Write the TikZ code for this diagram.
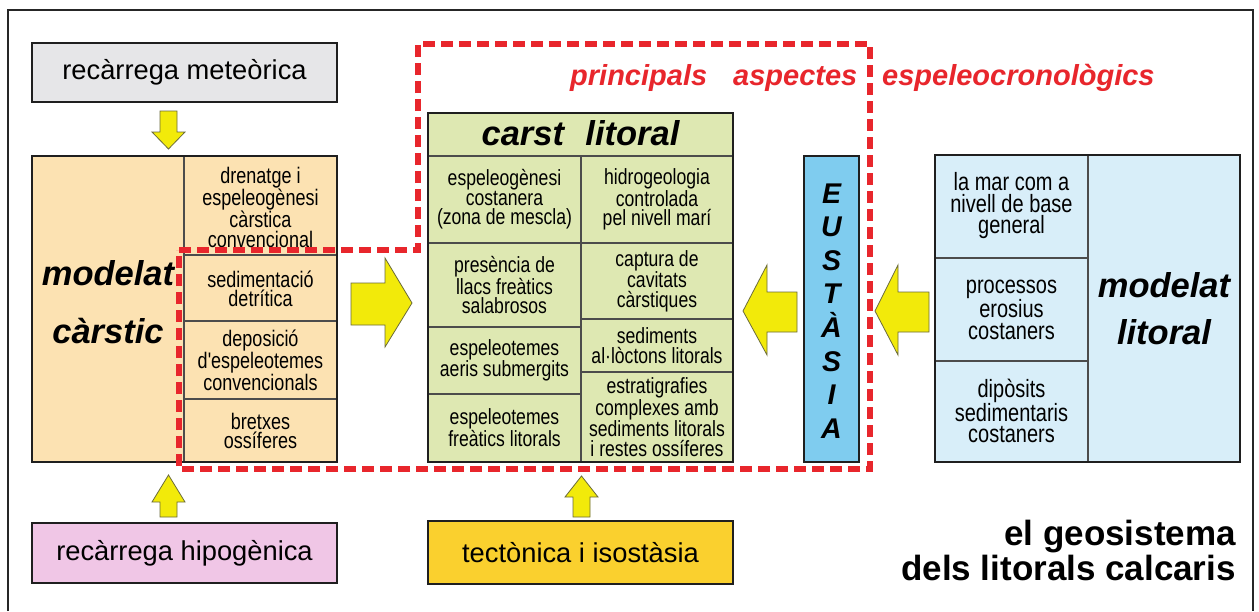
\documentclass[tikz,border=0pt]{standalone}
\usepackage{fontspec}
\setmainfont{Liberation Sans}
\newfontfamily\narrowfont[FakeStretch=0.8]{Liberation Sans}
\definecolor{grayfill}{HTML}{E6E6E8}
\definecolor{peach}{HTML}{FCE2B2}
\definecolor{greenfill}{HTML}{DEE8B2}
\definecolor{eustblue}{HTML}{7FCCEF}
\definecolor{lightblue}{HTML}{D8EEF9}
\definecolor{pinkfill}{HTML}{F0C6E6}
\definecolor{tectfill}{HTML}{FAD02E}
\definecolor{arrowyellow}{HTML}{F2EA0A}
\definecolor{arrowedge}{HTML}{6B6B3A}
\definecolor{dashred}{HTML}{E8262C}
\begin{document}
\begin{tikzpicture}[x=1pt,y=-1pt,
  boxline/.style={draw=black!88, line width=2.2pt},
  divider/.style={draw=black!70, line width=1.1pt},
  cellA/.style={font=\narrowfont\fontsize{22.5}{19.5}\selectfont, align=center, inner sep=0pt},
  cellB/.style={font=\narrowfont\fontsize{22}{19.5}\selectfont, align=center, inner sep=0pt},
  cellC/.style={font=\narrowfont\fontsize{25}{21.5}\selectfont, align=center, inner sep=0pt},
  bigtxt/.style={font=\fontsize{27.3}{30}\selectfont, inner sep=0pt},
  hugetxt/.style={font=\bfseries\itshape\fontsize{34.5}{58}\selectfont, align=center, inner sep=0pt},
  eustxt/.style={font=\bfseries\itshape\fontsize{28.5}{30}\selectfont, inner sep=0pt, anchor=base},
  yarrow/.style={fill=arrowyellow, draw=arrowedge, line width=0.8pt, line join=miter},
  reddash/.style={draw=dashred, line width=5.5pt, dash pattern=on 12pt off 6pt},
  redtxt/.style={text=dashred, font=\bfseries\itshape\fontsize{29}{34}\selectfont, inner sep=0pt, anchor=base west},
  titletxt/.style={font=\bfseries\fontsize{35}{40}\selectfont, inner sep=0pt, anchor=base east},
]
\useasboundingbox (0,0) rectangle (1259,611);
\fill[white] (0,0) rectangle (1259,611);
% outer frame (open at the bottom)
\draw[line width=2pt, black!85] (8,611) -- (8,10) -- (1253,10) -- (1253,611);

% recarrega meteorica
\filldraw[boxline, fill=grayfill] (32,43) rectangle (337,102);
\node[bigtxt] (met) at (184.5,72.5) {recàrrega meteòrica};

% modelat carstic
\fill[peach] (32,156) rectangle (337,462);
\draw[divider] (184,156) -- (184,462);
\draw[divider] (184,255) -- (337,255);
\draw[divider] (184,321) -- (337,321);
\draw[divider] (184,399) -- (337,399);
\draw[boxline] (32,156) rectangle (337,462);
\node[hugetxt, font=\bfseries\itshape\fontsize{34.5}{58}\selectfont] (mk) at (108,302) {modelat\\càrstic};
\node[cellA] (mk1) at (260.5,207) {drenatge i\\espeleogènesi\\càrstica\\convencional};
\node[cellA] (mk2) at (260.5,289) {sedimentació\\detrítica};
\node[cellA] (mk3) at (260.5,360) {deposició\\d'espeleotemes\\convencionals};
\node[cellA] (mk4) at (260.5,431) {bretxes\\ossíferes};

% recarrega hipogenica
\filldraw[boxline, fill=pinkfill] (32,523) rectangle (337,583);
\node[bigtxt] (hip) at (184.5,553) {recàrrega hipogènica};

% carst litoral
\fill[greenfill] (428,113) rectangle (733,462);
\draw[divider] (428,156) -- (733,156);
\draw[divider] (581,156) -- (581,462);
\draw[divider] (428,243) -- (733,243);
\draw[divider] (428,327) -- (581,327);
\draw[divider] (428,394) -- (581,394);
\draw[divider] (581,319) -- (733,319);
\draw[divider] (581,372) -- (733,372);
\draw[boxline] (428,113) rectangle (733,462);
\node[font=\bfseries\itshape\fontsize{34.5}{40}\selectfont, inner sep=0pt, anchor=base] (cl) at (580.5,145) {carst\hspace{0.62em}litoral};
\node[cellB] (cl1) at (504.5,199.5) {espeleogènesi\\costanera\\(zona de mescla)};
\node[cellB] (cl2) at (504.5,285) {presència de\\llacs freàtics\\salabrosos};
\node[cellB] (cl3) at (504.5,360.5) {espeleotemes\\aeris submergits};
\node[cellB] (cl4) at (504.5,428) {espeleotemes\\freàtics litorals};
\node[cellB] (cr1) at (657,199.5) {hidrogeologia\\controlada\\pel nivell marí};
\node[cellB] (cr2) at (657,281) {captura de\\cavitats\\càrstiques};
\node[cellB] (cr3) at (657,345.5) {sediments\\al·lòctons litorals};
\node[cellB] (cr4) at (657,417) {estratigrafies\\complexes amb\\sediments litorals\\i restes ossíferes};

% tectonica
\filldraw[boxline, fill=tectfill] (428,521) rectangle (733,584);
\node[bigtxt] (tec) at (580.5,552.5) {tectònica i isostàsia};

% eustasia
\filldraw[boxline, fill=eustblue] (804,156) rectangle (859,462);
\foreach \l [count=\i] in {E,U,S,T,À,S,I,A}
  \node[eustxt] (eu\i) at (831.5,{203+(\i-1)*33.6}) {\l};

% modelat litoral
\fill[lightblue] (935,155) rectangle (1240,462);
\draw[divider] (1088,155) -- (1088,462);
\draw[divider] (935,258) -- (1088,258);
\draw[divider] (935,361) -- (1088,361);
\draw[boxline] (935,155) rectangle (1240,462);
\node[hugetxt, font=\bfseries\itshape\fontsize{34.5}{47}\selectfont] (ml) at (1164,309) {modelat\\litoral};
\node[cellC] (ml1) at (1011.5,206) {la mar com a\\nivell de base\\general};
\node[cellC] (ml2) at (1011.5,309.5) {processos\\erosius\\costaners};
\node[cellC] (ml3) at (1011.5,411) {dipòsits\\sedimentaris\\costaners};

% yellow block arrows
\draw[yarrow] (160,111) -- (177,111) -- (177,132) -- (185,132) -- (168.5,149) -- (152,132) -- (160,132) -- cycle;
\draw[yarrow] (160,517) -- (177,517) -- (177,502) -- (185,502) -- (168.5,475) -- (152,502) -- (160,502) -- cycle;
\draw[yarrow] (573,517) -- (590,517) -- (590,497) -- (598,497) -- (581.5,476) -- (565,497) -- (573,497) -- cycle;
\draw[yarrow] (351,283) -- (385,283) -- (385,258) -- (412,303) -- (385,347) -- (385,325) -- (351,325) -- cycle;
\draw[yarrow] (797,292) -- (767,292) -- (767,265) -- (743,311) -- (767,355) -- (767,332) -- (797,332) -- cycle;
\draw[yarrow] (929,292) -- (898,292) -- (898,265) -- (875,311) -- (898,355) -- (898,332) -- (929,332) -- cycle;

% red dashed outline
\draw[reddash] (179,250) -- (418,250) -- (418,44) -- (870,44) -- (870,469) -- (179,469) -- cycle;
\node[redtxt] (r1) at (570,85) {principals};
\node[redtxt] (r2) at (733,85) {aspectes};
\node[redtxt] (r3) at (882,85) {espeleocronològics};

% title
\node[titletxt] (t1) at (1236,545) {el geosistema};
\node[titletxt] (t2) at (1236,580) {dels litorals calcaris};
\end{tikzpicture}
\end{document}
